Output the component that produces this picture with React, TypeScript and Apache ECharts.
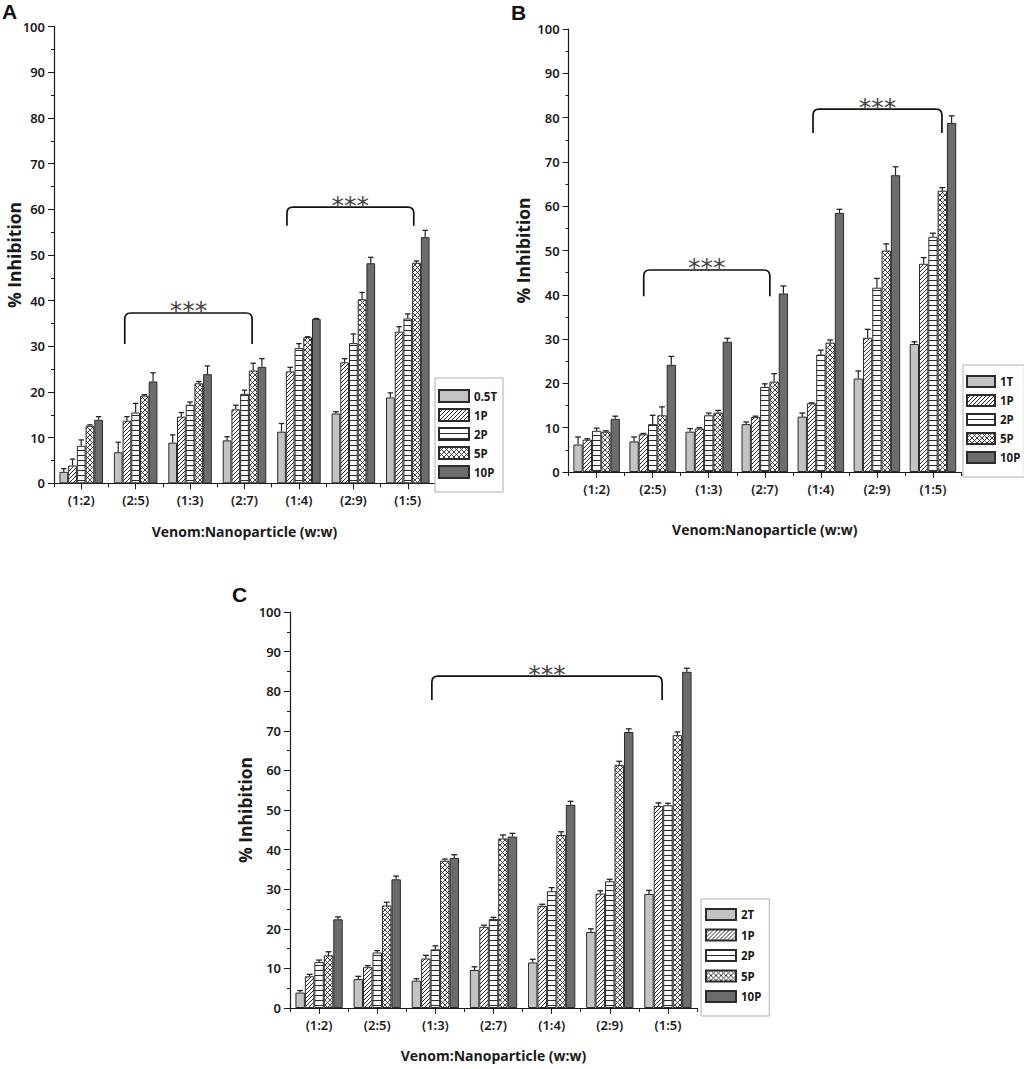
import React, { useEffect, useRef } from 'react';
import * as echarts from 'echarts';

// ---------- data ----------
const categories = ['(1:2)', '(2:5)', '(1:3)', '(2:7)', '(1:4)', '(2:9)', '(1:5)'];

const namesA = ['0.5T', '1P', '2P', '5P', '10P'];
const namesB = ['1T', '1P', '2P', '5P', '10P'];
const namesC = ['2T', '1P', '2P', '5P', '10P'];

// Panel A values
const A_T = [2.5, 6.8, 8.9, 9.4, 11.3, 15.3, 18.8];
const A_1P = [3.9, 13.7, 14.6, 16.2, 24.5, 26.5, 33.2];
const A_2P = [8.2, 15.5, 17.2, 19.6, 29.6, 30.7, 36.1];
const A_5P = [12.6, 19.2, 21.9, 24.7, 32.0, 40.3, 48.3];
const A_10P = [13.9, 22.3, 23.9, 25.5, 36.0, 48.2, 53.9];
// Panel A errors
const A_T_err = [0.7, 2.2, 1.7, 0.8, 1.8, 0.4, 1.0];
const A_1P_err = [1.4, 0.9, 0.9, 0.9, 0.9, 0.8, 1.1];
const A_2P_err = [1.3, 2.0, 0.6, 0.8, 1.0, 2.0, 1.0];
const A_5P_err = [0.2, 0.2, 0.4, 1.6, 0.1, 1.5, 0.4];
const A_10P_err = [0.7, 1.9, 1.8, 1.8, 0.1, 1.3, 1.5];

// Panel B values
const B_T = [6.2, 6.9, 9.1, 10.8, 12.5, 21.1, 28.9];
const B_1P = [7.3, 8.5, 9.8, 12.4, 15.5, 30.3, 47.0];
const B_2P = [9.3, 10.8, 12.8, 19.2, 26.5, 41.6, 53.1];
const B_5P = [9.1, 12.8, 13.4, 20.4, 29.2, 50.0, 63.5];
const B_10P = [12.0, 24.2, 29.4, 40.3, 58.5, 67.0, 78.8];
// Panel B errors
const B_T_err = [1.7, 1.0, 0.7, 0.5, 0.8, 1.7, 0.5];
const B_1P_err = [0.2, 0.2, 0.2, 0.2, 0.1, 1.9, 1.4];
const B_2P_err = [0.6, 2.0, 0.5, 0.7, 1.0, 2.1, 0.8];
const B_5P_err = [0.2, 1.9, 0.5, 1.8, 0.6, 1.5, 0.7];
const B_10P_err = [0.6, 1.9, 0.8, 1.7, 0.8, 1.9, 1.6];

// Panel C values
const C_T = [3.9, 7.3, 6.9, 9.6, 11.5, 19.2, 28.8];
const C_1P = [8.0, 10.3, 12.5, 20.5, 25.8, 28.9, 51.0];
const C_2P = [11.6, 14.0, 14.8, 22.5, 29.5, 32.0, 51.2];
const C_5P = [13.3, 25.9, 37.2, 42.8, 43.7, 61.4, 68.9];
const C_10P = [22.4, 32.5, 37.9, 43.3, 51.3, 69.7, 84.9];
// Panel C errors
const C_T_err = [0.5, 0.7, 0.5, 0.8, 0.8, 0.8, 0.9];
const C_1P_err = [0.5, 0.4, 0.8, 0.4, 0.4, 0.7, 0.8];
const C_2P_err = [0.5, 0.5, 0.9, 0.4, 0.9, 0.5, 0.5];
const C_5P_err = [0.9, 0.8, 0.4, 0.9, 0.8, 0.9, 0.8];
const C_10P_err = [0.6, 0.8, 0.8, 0.8, 0.9, 0.8, 0.9];

// significance brackets: [xStart, xEnd, yTop, yLegBottom] in category-index / % units
const bracketsA = [[0.8, 3.14, 37.3, 30.5], [3.78, 6.11, 60.5, 56.4]];
const bracketsB = [[0.84, 3.09, 45.6, 39.7], [3.86, 6.16, 81.9, 76.5]];
const bracketsC = [[1.94, 5.9, 83.8, 77.8]];

const yAxisTitle = '% Inhibition';
const xAxisTitle = 'Venom:Nanoparticle (w:w)';

// ---------- styling ----------
const LABEL = '"Noto Sans", "DejaVu Sans", sans-serif';
const TITLE = '"Open Sans", "Noto Sans", sans-serif';
const INK = '#1a1a1a';

function makeTile(kind: string) {
  const s = kind === 'diag' ? 4 : 5;
  const c = document.createElement('canvas');
  c.width = s;
  c.height = s;
  const g = c.getContext('2d') as CanvasRenderingContext2D;
  g.fillStyle = '#ffffff';
  g.fillRect(0, 0, s, s);
  g.strokeStyle = '#2a2a2a';
  g.fillStyle = '#2a2a2a';
  g.lineWidth = 1;
  if (kind === 'diag') {
    g.beginPath();
    g.moveTo(-1, s + 1);
    g.lineTo(s + 1, -1);
    g.moveTo(-1, 1);
    g.lineTo(1, -1);
    g.moveTo(s - 1, s + 1);
    g.lineTo(s + 1, s - 1);
    g.stroke();
  } else if (kind === 'horiz') {
    g.fillRect(0, 0, s, 1);
  } else if (kind === 'cross') {
    g.lineWidth = 0.9;
    g.beginPath();
    g.moveTo(-1, -1);
    g.lineTo(s + 1, s + 1);
    g.moveTo(-1, s + 1);
    g.lineTo(s + 1, -1);
    g.stroke();
  }
  return { image: c.toDataURL(), repeat: 'repeat', imageWidth: s, imageHeight: s };
}

export default function App() {
  const ref = useRef<HTMLDivElement>(null);

  useEffect(() => {
    if (!ref.current) return;
    const chart = echarts.init(ref.current, null, { renderer: 'svg' });

    const fills: any[] = ['#c3c3c3', makeTile('diag'), makeTile('horiz'), makeTile('cross'), '#6c6c6c'];

    const panels = [
      {
        names: namesA,
        values: [A_T, A_1P, A_2P, A_5P, A_10P],
        errors: [A_T_err, A_1P_err, A_2P_err, A_5P_err, A_10P_err],
        gap: 0.2,
        brackets: bracketsA,
        grid: { left: 54, top: 26.7, width: 381, height: 456.6 },
        xNameGap: 41,
        yNameGap: 30,
        yNameMove: false,
        legend: { left: 435, top: 378, padding: [11, 6, 13, 3], itemWidth: 30, itemHeight: 12, itemGap: 5 },
      },
      {
        names: namesB,
        values: [B_T, B_1P, B_2P, B_5P, B_10P],
        errors: [B_T_err, B_1P_err, B_2P_err, B_5P_err, B_10P_err],
        gap: 0.17,
        brackets: bracketsB,
        grid: { left: 568.6, top: 29, width: 392.4, height: 443 },
        xNameGap: 50,
        yNameGap: 34,
        yNameMove: true,
        legend: { left: 963, top: 365, padding: [10, 4, 13, 3], itemWidth: 28, itemHeight: 11, itemGap: 6 },
      },
      {
        names: namesC,
        values: [C_T, C_1P, C_2P, C_5P, C_10P],
        errors: [C_T_err, C_1P_err, C_2P_err, C_5P_err, C_10P_err],
        gap: 0.186,
        brackets: bracketsC,
        grid: { left: 290, top: 612, width: 407, height: 396 },
        xNameGap: 40,
        yNameGap: 34,
        yNameMove: true,
        legend: { left: 701, top: 899, padding: [9, 8, 13, 4], itemWidth: 30, itemHeight: 11, itemGap: 7.5 },
      },
    ];

    const grid: any[] = [];
    const xAxis: any[] = [];
    const yAxis: any[] = [];
    const series: any[] = [];
    const legend: any[] = [];

    panels.forEach((p, pi) => {
      grid.push({ ...p.grid, containLabel: false, outerBoundsMode: 'none' });
      xAxis.push({
        type: 'category',
        gridIndex: pi,
        data: categories,
        position: 'bottom',
        boundaryGap: true,
        name: xAxisTitle,
        nameLocation: 'middle',
        nameGap: p.xNameGap,
        nameTextStyle: { fontFamily: TITLE, fontWeight: 'bold', fontSize: 14, color: INK },
        axisLine: { onZero: false, lineStyle: { color: INK, width: 1.2 } },
        axisTick: { show: true, alignWithLabel: true, length: 6, lineStyle: { color: INK } },
        axisLabel: { fontFamily: LABEL, fontWeight: 600, fontSize: 13, color: INK, margin: 10, interval: 0 },
        splitLine: { show: false },
      });
      xAxis.push({
        type: 'value',
        gridIndex: pi,
        min: -0.5,
        max: 6.5,
        interval: 1,
        position: 'bottom',
        axisLine: { show: false, onZero: false },
        axisTick: { show: true, length: 4, lineStyle: { color: INK } },
        axisLabel: { show: false },
        splitLine: { show: false },
      });
      yAxis.push({
        type: 'value',
        gridIndex: pi,
        min: 0,
        max: 100,
        interval: 10,
        name: yAxisTitle,
        nameLocation: 'middle',
        nameGap: p.yNameGap,
        nameMoveOverlap: p.yNameMove,
        nameTextStyle: { fontFamily: TITLE, fontWeight: 'bold', fontSize: 17.5, lineHeight: 20, color: INK },
        axisLine: { show: true, onZero: false, lineStyle: { color: INK, width: 1.2 } },
        axisTick: { show: true, length: 6, lineStyle: { color: INK } },
        minorTick: { show: true, splitNumber: 2, length: 3, lineStyle: { color: INK } },
        axisLabel: { fontFamily: LABEL, fontWeight: 600, fontSize: 13, color: INK, margin: 9 },
        splitLine: { show: false },
        minorSplitLine: { show: false },
      });

      p.names.forEach((name, si) => {
        series.push({
          type: 'bar',
          name,
          xAxisIndex: pi * 2,
          yAxisIndex: pi,
          data: p.values[si],
          barGap: '0%',
          barCategoryGap: p.gap * 100 + '%',
          itemStyle: { color: fills[si], borderColor: '#2b2b2b', borderWidth: 1 },
          emphasis: { disabled: true },
          z: 2,
        });
      });

      const errData: number[][] = [];
      p.values.forEach((vals, si) => {
        vals.forEach((v, ci) => errData.push([ci, si, v, p.errors[si][ci]]));
      });
      const gapFrac = p.gap;
      series.push({
        type: 'custom',
        xAxisIndex: pi * 2,
        yAxisIndex: pi,
        data: errData,
        encode: { x: 0, y: 2 },
        z: 4,
        silent: true,
        renderItem: (params: any, api: any) => {
          const c = api.value(0);
          const s = api.value(1);
          const v = api.value(2);
          const e = api.value(3);
          const band = api.size([1, 0])[0];
          const groupW = band * (1 - gapFrac);
          const bw = groupW / 5;
          const base = api.coord([c, v]);
          const top = api.coord([c, v + e]);
          const x = base[0] - groupW / 2 + bw * (s + 0.5);
          const cap = Math.max(bw * 0.62, 4);
          return {
            type: 'group',
            children: [
              { type: 'line', shape: { x1: x, y1: base[1], x2: x, y2: top[1] }, style: { stroke: '#222', lineWidth: 1.2 } },
              { type: 'line', shape: { x1: x - cap / 2, y1: top[1], x2: x + cap / 2, y2: top[1] }, style: { stroke: '#222', lineWidth: 1.3 } },
            ],
          };
        },
      });

      series.push({
        type: 'custom',
        xAxisIndex: pi * 2 + 1,
        yAxisIndex: pi,
        data: p.brackets,
        encode: { x: [0, 1], y: [2, 3] },
        z: 5,
        silent: true,
        renderItem: (params: any, api: any) => {
          const x1 = api.value(0);
          const x2 = api.value(1);
          const yT = api.value(2);
          const yB = api.value(3);
          const pb = api.coord([x1, yB]);
          const pt = api.coord([x1, yT]);
          const pe = api.coord([x2, yT]);
          const r = 6;
          const d =
            `M${pb[0]},${pb[1]} L${pb[0]},${pt[1] + r} Q${pb[0]},${pt[1]} ${pb[0] + r},${pt[1]} ` +
            `L${pe[0] - r},${pe[1]} Q${pe[0]},${pe[1]} ${pe[0]},${pe[1] + r} L${pe[0]},${pb[1]}`;
          return {
            type: 'group',
            children: [
              { type: 'path', shape: { pathData: d }, style: { fill: 'none', stroke: '#111', lineWidth: 1.7 } },
              {
                type: 'text',
                x: (pt[0] + pe[0]) / 2,
                y: pt[1] - 2,
                style: {
                  text: '***',
                  textAlign: 'center',
                  textVerticalAlign: 'middle',
                  fontSize: 25,
                  fontFamily: '"DejaVu Sans", sans-serif',
                  fill: '#444',
                },
              },
            ],
          };
        },
      });

      legend.push({
        data: p.names,
        orient: 'vertical',
        ...p.legend,
        icon: 'rect',
        selectedMode: false,
        borderColor: '#a9b1bb',
        borderWidth: 1,
        backgroundColor: '#fff',
        textStyle: {
          fontFamily: LABEL,
          fontWeight: 'bold',
          fontSize: 11.5,
          lineHeight: p.legend.itemHeight,
          color: INK,
        },
      });
    });

    const letter = (text: string, x: number, y: number) => ({
      type: 'text',
      left: x,
      top: y,
      style: { text, fontFamily: '"Liberation Sans", Arial, sans-serif', fontWeight: 'bold', fontSize: 21, fill: '#111' },
    });

    chart.setOption({
      animation: false,
      backgroundColor: '#ffffff',
      grid,
      xAxis,
      yAxis,
      series,
      legend,
      graphic: [letter('A', 2, 1), letter('B', 511, 2), letter('C', 232, 584)],
    });

    return () => chart.dispose();
  }, []);

  return (
    <div
      ref={ref}
      style={{ position: 'fixed', left: 0, top: 0, width: 1024, height: 1069, background: '#fff' }}
    />
  );
}
